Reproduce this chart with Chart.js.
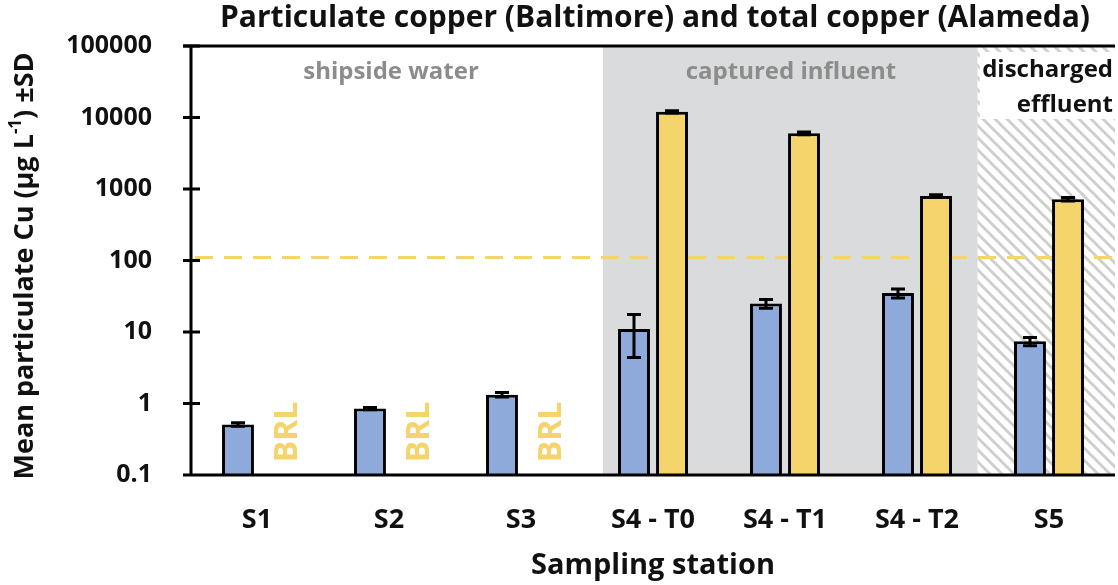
<!DOCTYPE html>
<html lang="en">
<head>
  <meta charset="UTF-8">
  <title>Particulate copper</title>
  <script src="https://cdn.jsdelivr.net/npm/chart.js"></script>
  <style>
    html, body { margin: 0; padding: 0; background: #fff; }
    #wrap { width: 1118px; height: 585px; }
  </style>
</head>
<body>
  <div id="wrap"><canvas id="cuChart" width="1118" height="585"></canvas></div>

  <script>
    // data
    const stations = ['S1', 'S2', 'S3', 'S4 - T0', 'S4 - T1', 'S4 - T2', 'S5'];
    const baltimore = [0.51, 0.85, 1.33, 11, 25, 35, 7.4];
    const baltimoreSD = [0.03, 0.03, 0.1, 6.6, 3.5, 5, 1];
    const alameda = [null, null, null, 12000, 6000, 800, 720];
    const alamedaSD = [null, null, null, 400, 250, 30, 40];
    const brl = [true, true, true, false, false, false, false];
    const yTicks = [0.1, 1, 10, 100, 1000, 10000, 100000];
    const threshold = 110;

    const BLUE = '#8eaadb';
    const YELLOW = '#f6d46c';
    const FONT = '"Open Sans", "DejaVu Sans", sans-serif';

    function hatchPattern(ctx) {
      const s = 12;
      const c = document.createElement('canvas');
      c.width = s; c.height = s;
      const p = c.getContext('2d');
      p.fillStyle = '#fff';
      p.fillRect(0, 0, s, s);
      p.strokeStyle = '#cfcfcf';
      p.lineWidth = 3;
      p.beginPath();
      p.moveTo(-2, -2); p.lineTo(s + 2, s + 2);
      p.moveTo(-2, s - 2); p.lineTo(2, s + 2);
      p.moveTo(s - 2, -2); p.lineTo(s + 2, 2);
      p.stroke();
      return ctx.createPattern(c, 'repeat');
    }

    const backdrop = {
      id: 'backdrop',
      beforeDatasetsDraw(chart) {
        const { ctx, chartArea: a, scales: { x, y } } = chart;
        const step = x.getPixelForValue(1) - x.getPixelForValue(0);
        const grayL = x.getPixelForValue(3) - 0.38 * step;
        const grayR = x.getPixelForValue(5) + 0.46 * step;
        ctx.save();
        ctx.fillStyle = '#d9dbdc';
        ctx.fillRect(grayL, a.top, grayR - grayL, a.bottom - a.top);
        ctx.fillStyle = hatchPattern(ctx);
        ctx.fillRect(grayR, a.top, a.right - grayR, a.bottom - a.top);
        ctx.fillStyle = '#fff';
        ctx.fillRect(grayR + 2, a.top + 6, a.right - grayR - 2, 67);

        // region labels
        ctx.font = 'bold 24px ' + FONT;
        ctx.textBaseline = 'middle';
        ctx.textAlign = 'center';
        ctx.fillStyle = '#8c8c8c';
        ctx.fillText('shipside water', x.getPixelForValue(1) + 2, a.top + 26);
        ctx.fillText('captured influent', x.getPixelForValue(4) + 6, a.top + 26);
        ctx.fillStyle = '#111';
        ctx.textAlign = 'right';
        ctx.fillText('discharged', a.right - 2, a.top + 24);
        ctx.fillText('effluent', a.right - 2, a.top + 59);

        // dashed threshold line
        const ty = y.getPixelForValue(threshold);
        ctx.strokeStyle = YELLOW;
        ctx.lineWidth = 3;
        ctx.setLineDash([18, 11]);
        ctx.beginPath();
        ctx.moveTo(a.left + 4, ty);
        ctx.lineTo(a.right, ty);
        ctx.stroke();
        ctx.restore();
      },
      afterDatasetsDraw(chart) {
        const { ctx, scales: { x, y } } = chart;
        ctx.save();
        ctx.strokeStyle = '#000';
        ctx.lineWidth = 3;
        [[0, baltimore, baltimoreSD], [1, alameda, alamedaSD]].forEach(([di, vals, sds]) => {
          const meta = chart.getDatasetMeta(di);
          vals.forEach((v, i) => {
            if (v == null || sds[i] == null) return;
            const bx = meta.data[i].x;
            const hi = y.getPixelForValue(v + sds[i]);
            const lo = y.getPixelForValue(Math.max(v - sds[i], 0.11));
            ctx.beginPath();
            ctx.moveTo(bx, hi); ctx.lineTo(bx, lo);
            ctx.moveTo(bx - 7, hi); ctx.lineTo(bx + 7, hi);
            ctx.moveTo(bx - 7, lo); ctx.lineTo(bx + 7, lo);
            ctx.stroke();
          });
        });

        // below reporting limit labels
        ctx.font = 'bold 32px ' + FONT;
        ctx.fillStyle = YELLOW;
        ctx.textAlign = 'center';
        ctx.textBaseline = 'middle';
        brl.forEach((b, i) => {
          if (!b) return;
          ctx.save();
          ctx.translate(x.getPixelForValue(i) + 31, y.getPixelForValue(0.1) - 43);
          ctx.rotate(-Math.PI / 2);
          ctx.fillText('BRL', 0, 0);
          ctx.restore();
        });
        ctx.restore();
      },
      afterDraw(chart) {
        const { ctx, chartArea: a, scales: { y } } = chart;
        ctx.save();
        ctx.strokeStyle = '#000';
        ctx.lineWidth = 3;
        ctx.beginPath();
        ctx.moveTo(a.left, a.top); ctx.lineTo(a.left, a.bottom);
        ctx.moveTo(a.left - 8, a.bottom); ctx.lineTo(a.right, a.bottom);
        yTicks.forEach(t => {
          const ty = y.getPixelForValue(t);
          ctx.moveTo(a.left - 8, ty); ctx.lineTo(a.left + 9, ty);
        });
        ctx.stroke();
        ctx.beginPath();
        ctx.moveTo(a.left - 8, a.top); ctx.lineTo(a.right, a.top);
        ctx.stroke();

        // titles
        ctx.fillStyle = '#111';
        ctx.textAlign = 'center';
        ctx.textBaseline = 'middle';
        ctx.font = 'bold 30px ' + FONT;
        ctx.fillText('Particulate copper (Baltimore) and total copper (Alameda)', 655, 18);
        ctx.font = 'bold 29px ' + FONT;
        ctx.fillText('Sampling station', 653, 566);

        // y title with superscript
        const big = 'bold 27px ' + FONT, small = 'bold 17px ' + FONT;
        const p1 = 'Mean particulate Cu (\u00b5g L', sup = '-1', p2 = ') \u00b1SD';
        ctx.font = big; const w1 = ctx.measureText(p1).width, w3 = ctx.measureText(p2).width;
        ctx.font = small; const w2 = ctx.measureText(sup).width;
        const total = w1 + w2 + w3;
        ctx.translate(25, 266);
        ctx.rotate(-Math.PI / 2);
        ctx.textAlign = 'left';
        let cx = -total / 2;
        ctx.font = big; ctx.fillText(p1, cx, 0); cx += w1;
        ctx.font = small; ctx.fillText(sup, cx, -9); cx += w2;
        ctx.font = big; ctx.fillText(p2, cx, 0);
        ctx.restore();
      }
    };

    new Chart(document.getElementById('cuChart'), {
      type: 'bar',
      data: {
        labels: stations,
        datasets: [
          { label: 'Particulate Cu (Baltimore)', data: baltimore, backgroundColor: BLUE,
            borderColor: '#000', borderWidth: 3, barPercentage: 0.84, categoryPercentage: 0.576 },
          { label: 'Total Cu (Alameda)', data: alameda, backgroundColor: YELLOW,
            borderColor: '#000', borderWidth: 3, barPercentage: 0.84, categoryPercentage: 0.576 }
        ]
      },
      options: {
        responsive: false,
        animation: false,
        layout: { padding: { top: 43, right: 3, left: 0, bottom: 0 } },
        plugins: { legend: { display: false }, tooltip: { enabled: false } },
        scales: {
          x: {
            grid: { display: false },
            border: { display: false },
            ticks: { color: '#111', font: { family: FONT, size: 27, weight: 'bold' }, padding: 21, maxRotation: 0 },
            afterFit(s) { s.height = 110; }
          },
          y: {
            type: 'logarithmic',
            min: 0.1,
            max: 100000,
            grid: { display: false },
            border: { display: false },
            afterBuildTicks(s) { s.ticks = yTicks.map(v => ({ value: v })); },
            ticks: {
              color: '#111',
              font: { family: FONT, size: 25, weight: 'bold' },
              padding: 31,
              callback: v => String(v)
            },
            afterFit(s) { s.width = 191; }
          }
        }
      },
      plugins: [backdrop]
    });
  </script>
</body>
</html>
